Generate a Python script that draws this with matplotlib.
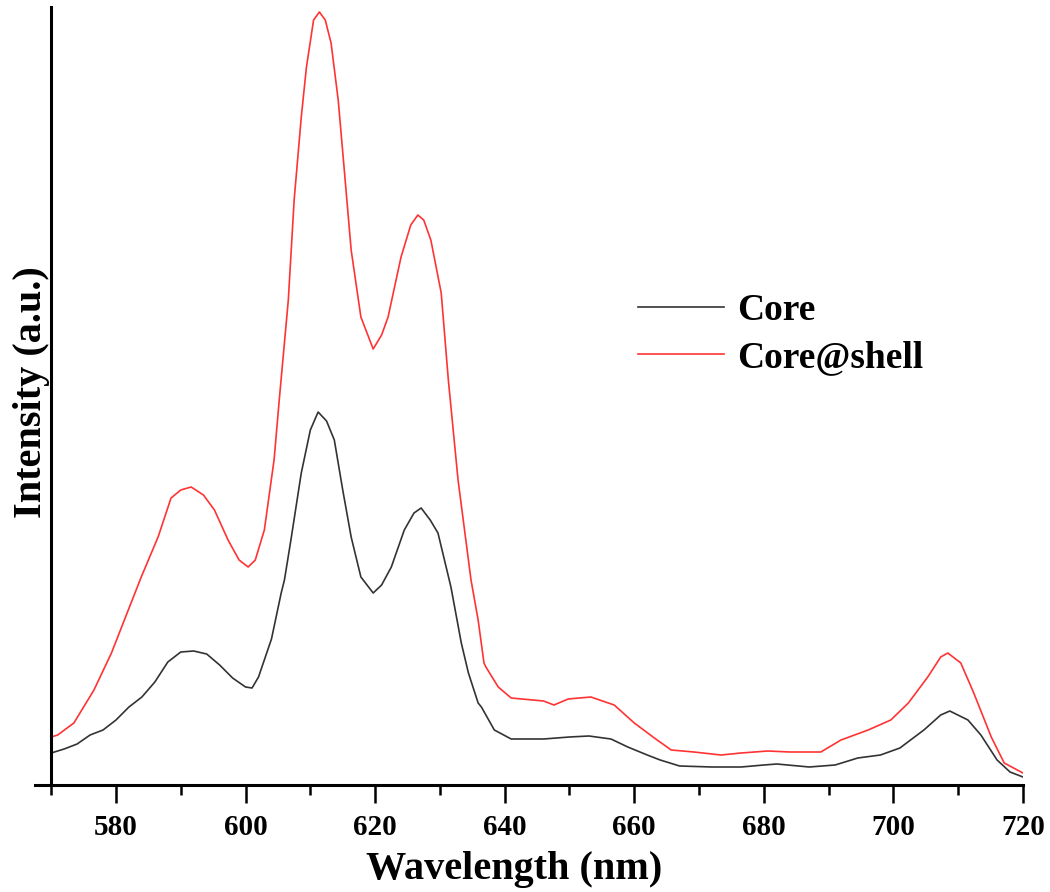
import matplotlib
matplotlib.use("Agg")
import matplotlib.pyplot as plt
from matplotlib.ticker import MultipleLocator

# Core spectrum (wavelength in nm, intensity in a.u.)
core_nm = [570, 572, 574, 576, 578, 580, 582, 584, 586, 588, 590, 592, 594, 596,
           598, 600, 601, 602, 604, 605.5, 606, 607, 608.6, 610, 611.2, 612.5,
           613.7, 615, 616.3, 617.8, 619.7, 621, 622.5, 624.5, 626, 627.1, 628.5,
           629.7, 631.7, 633.3, 634.4, 635.9, 636.4, 638.4, 641, 646, 650, 653,
           656.4, 659, 662, 664, 667, 672, 676.5, 680, 682, 687, 691, 694.5, 698,
           701, 704.7, 707.3, 708.7, 711.5, 713.5, 716, 718, 720]
core_int = [32, 36, 41, 50, 55, 65, 78, 88, 103, 123, 133, 134, 131, 120,
            107, 98, 97, 108, 146, 192, 205, 245, 312, 355, 373, 364,
            345, 295, 248, 208, 192, 200, 218, 255, 272, 277, 265,
            252, 198, 142, 112, 82, 78, 55, 46, 46, 48, 49,
            46, 38, 30, 25, 19, 18, 18, 20, 21, 18, 20, 27, 30,
            37, 55, 70, 74, 65, 50, 25, 13, 8]

# Core@shell spectrum
shell_nm = [570, 571, 573.5, 576.6, 579.3, 581.9, 583.9, 586.5, 588.5, 590, 591.6,
            593.5, 595.2, 597.3, 599, 600.4, 601.5, 602.9, 604.4, 605.2, 606.6,
            607.5, 608.6, 609.4, 610.5, 611.4, 612.3, 613.2, 614.3, 615.2, 616.3,
            617.8, 619.7, 621, 622, 624, 625.5, 626.6, 627.5, 628.6, 630.2, 631.3,
            632.8, 634.8, 635.9, 636.8, 637.1, 639, 641, 646, 647.6, 649.8, 653.3,
            656.9, 660, 663.1, 665.7, 669.2, 673.4, 676.5, 680.6, 684, 688.8,
            691.9, 696.1, 699.6, 702.3, 705.3, 707.3, 708.4, 710.4, 712.4, 715.1,
            717.1, 720]
shell_int = [48, 50, 62, 95, 132, 175, 208, 248, 287, 295, 298,
             290, 275, 245, 225, 218, 225, 255, 325, 385, 485,
             585, 668, 718, 765, 773, 765, 742, 685, 618, 535,
             468, 436, 450, 468, 528, 560, 570, 565, 545, 492, 405,
             305, 205, 165, 122, 118, 98, 87, 84, 80, 86, 88,
             80, 62, 47, 35, 33, 30, 32, 34, 33, 33,
             45, 55, 65, 82, 108, 128, 132, 122, 92, 48,
             22, 12]

series_labels = ["Core", "Core@shell"]
x_ticks = [580, 600, 620, 640, 660, 680, 700, 720]

plt.rcParams['font.family'] = ['Liberation Serif', 'DejaVu Serif']
plt.rcParams['font.weight'] = 'bold'

fig = plt.figure(figsize=(10.5, 8.92), dpi=100)
fig.patch.set_facecolor('#ffffff')
ax = fig.add_axes([35 / 1050, 1 - 785 / 892, 988 / 1050, 778 / 892])

ax.plot(core_nm, core_int, color='#333333', lw=1.2, label=series_labels[0])
ax.plot(shell_nm, shell_int, color='#ff3333', lw=1.2, label=series_labels[1])

ax.set_xlim(567.5, 720)
ax.set_ylim(0, 778)
ax.spines['top'].set_visible(False)
ax.spines['right'].set_visible(False)
ax.spines['left'].set_position(('data', 570))
for s in ('left', 'bottom'):
    ax.spines[s].set_linewidth(2.2)
ax.set_yticks([])

ax.set_xticks(x_ticks)
ax.xaxis.set_minor_locator(MultipleLocator(10))
ax.tick_params(axis='x', which='major', direction='out', length=13, width=1.8,
               labelsize=21, pad=8)
ax.tick_params(axis='x', which='minor', direction='out', length=7, width=1.8)
for lab in ax.get_xticklabels():
    lab.set_fontweight('bold')

ax.set_xlabel("Wavelength (nm)", fontsize=29, fontweight='bold')
ax.xaxis.set_label_coords((514 - 35) / 988, -66 / 778)
ax.set_ylabel("Intensity (a.u.)", fontsize=29, fontweight='bold')
ax.yaxis.set_label_coords((50 - 35) / 988, 0.505)

leg = ax.legend(loc='upper left', bbox_to_anchor=(638 / 1050, 1 - 293 / 892),
                bbox_transform=fig.transFigure, frameon=False, fontsize=27,
                handlelength=2.3, handletextpad=0.35, labelspacing=0.33,
                borderpad=0, borderaxespad=0)
for t in leg.get_texts():
    t.set_fontweight('bold')

fig.savefig("out.png", dpi=100, facecolor='#ffffff')
